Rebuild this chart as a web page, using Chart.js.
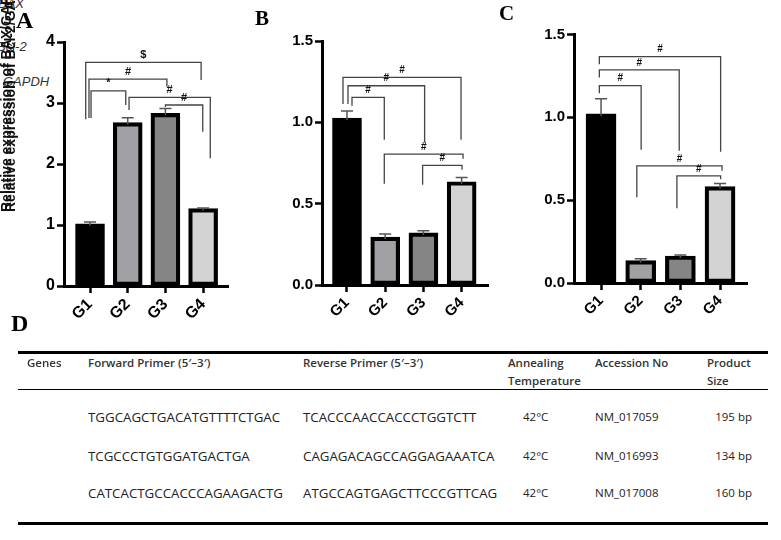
<!DOCTYPE html>
<html><head><meta charset="utf-8">
<script src="https://cdn.jsdelivr.net/npm/chart.js@4.4.0/dist/chart.umd.min.js"></script>
<style>
html,body{margin:0;padding:0;background:#fff;}
body{width:781px;height:540px;position:relative;overflow:hidden;font-family:"Liberation Sans",Arial,sans-serif;}
.box{position:absolute;top:0;height:340px;}
.plabel{position:absolute;font-family:"Liberation Serif","Times New Roman",serif;font-weight:bold;line-height:1;color:#000;}
.gene{position:absolute;font-family:"Liberation Sans",Arial,sans-serif;font-style:italic;font-size:13px;line-height:1;color:#333;white-space:nowrap;}
.t{position:absolute;font-family:"Open Sans",sans-serif;font-size:11.5px;color:#222;white-space:nowrap;line-height:16px;}
.seq{font-size:13.3px;}
.th{font-weight:600;color:#333;}
.r{text-align:right;}
.rule{position:absolute;left:18px;width:750px;background:#000;}
</style></head>
<body>
<div class="gene" style="left:-2px;top:-3px;">BAX</div>
<div class="gene" style="left:-3px;top:40px;">Bcl-2</div>
<div class="gene" style="left:3px;top:75px;">GAPDH</div>

<div class="box" style="left:0;width:250px;"><canvas id="chartA"></canvas></div>
<div class="box" style="left:250px;width:250px;"><canvas id="chartB"></canvas></div>
<div class="box" style="left:500px;width:281px;"><canvas id="chartC"></canvas></div>

<div class="plabel" style="left:16px;top:8px;font-size:24px;">A</div>
<div class="plabel" style="left:255px;top:8px;font-size:21px;">B</div>
<div class="plabel" style="left:499px;top:3px;font-size:21px;">C</div>
<div class="plabel" style="left:11px;top:311px;font-size:24px;">D</div>

<div id="table"></div>

<script>
// ---------- data ----------
const groups = ['G1', 'G2', 'G3', 'G4'];
const barColors = ['#000000', '#a0a0a5', '#858585', '#d3d3d3'];

const aValues = [1.02, 2.68, 2.83, 1.27];
const aErrors = [0.03, 0.08, 0.08, 0.01];
const bValues = [1.026, 0.295, 0.320, 0.635];
const bErrors = [0.043, 0.018, 0.014, 0.026];
const cValues = [1.021, 0.135, 0.163, 0.582];
const cErrors = [0.091, 0.012, 0.006, 0.018];

const aYTicks = [0, 1, 2, 3, 4];
const bYTicks = [0, 0.5, 1.0, 1.5];
const cYTicks = [0, 0.5, 1.0, 1.5];

// significance brackets: [x start, x end, bar height, left leg end, right leg end, label]
const aBrackets = [
  [0.886, 3.947, 3.667, 2.733, 3.377, '$'],
  [0.973, 3.040, 3.393, 2.754, 3.267, '#'],
  [1.027, 1.948, 3.200, 2.754, 2.967, '*'],
  [2.035, 4.190, 3.093, 2.885, 2.093, '#'],
  [3.000, 3.990, 2.967, 2.934, 2.530, '#']
];
const bBrackets = [
  [0.895, 3.984, 1.276, 1.112, 0.893, '#'],
  [1.026, 3.031, 1.225, 1.112, 0.876, '#'],
  [1.131, 1.976, 1.153, 1.102, 0.893, '#'],
  [1.976, 4.037, 0.805, 0.623, 0.776, '#'],
  [2.979, 4.010, 0.735, 0.616, 0.709, '#']
];
const cBrackets = [
  [0.957, 4.015, 1.367, 1.321, 0.793, '#'],
  [0.957, 2.971, 1.287, 1.240, 0.798, '#'],
  [0.957, 2.011, 1.192, 1.146, 0.804, '#'],
  [1.902, 4.050, 0.707, 0.518, 0.677, '#'],
  [2.913, 4.015, 0.647, 0.451, 0.627, '#']
];

const aYTitles = ['Relative expression of BAX/GAPDH', 'Relative expression of Bcl-2/GAPDH'];

const tableHeaders = ['Genes', 'Forward Primer (5\u2032\u20133\u2032)', 'Reverse Primer (5\u2032\u20133\u2032)', ['Annealing', 'Temperature'], 'Accession No', ['Product', 'Size']];
const forwardPrimers = ['TGGCAGCTGACATGTTTTCTGAC', 'TCGCCCTGTGGATGACTGA', 'CATCACTGCCACCCAGAAGACTG'];
const reversePrimers = ['TCACCCAACCACCCTGGTCTT', 'CAGAGACAGCCAGGAGAAATCA', 'ATGCCAGTGAGCTTCCCGTTCAG'];
const annealTemps = ['42\u00B0C', '42\u00B0C', '42\u00B0C'];
const accessions = ['NM_017059', 'NM_016993', 'NM_017008'];
const productSizes = ['195 bp', '134 bp', '160 bp'];

// ---------- plugins ----------
const errPlugin = {
  id: 'errbars',
  afterDatasetsDraw(chart, args, o) {
    const meta = chart.getDatasetMeta(0), ys = chart.scales.y, ctx = chart.ctx;
    ctx.save();
    ctx.strokeStyle = o.color; ctx.lineWidth = o.width;
    meta.data.forEach((el, i) => {
      const v = o.values[i], e = o.errors[i];
      const y0 = ys.getPixelForValue(v) + 2, y1 = ys.getPixelForValue(v + e);
      ctx.beginPath();
      ctx.moveTo(el.x, y0); ctx.lineTo(el.x, y1);
      ctx.moveTo(el.x - o.cap, y1); ctx.lineTo(el.x + o.cap, y1);
      ctx.stroke();
    });
    ctx.restore();
  }
};
const bracketPlugin = {
  id: 'brackets',
  afterDatasetsDraw(chart, args, o) {
    const xs = chart.scales.x, ys = chart.scales.y, ctx = chart.ctx;
    ctx.save();
    ctx.strokeStyle = o.color; ctx.lineWidth = o.width; ctx.fillStyle = '#111';
    ctx.font = o.font; ctx.textAlign = 'center'; ctx.textBaseline = 'bottom';
    o.items.forEach(b => {
      const x1 = xs.getPixelForValue(b[0]), x2 = xs.getPixelForValue(b[1]);
      const y = ys.getPixelForValue(b[2]);
      ctx.beginPath();
      ctx.moveTo(x1, ys.getPixelForValue(b[3]));
      ctx.lineTo(x1, y); ctx.lineTo(x2, y);
      ctx.lineTo(x2, ys.getPixelForValue(b[4]));
      ctx.stroke();
      ctx.fillText(b[5], (x1 + x2) / 2, y - 2);
    });
    ctx.restore();
  }
};
const yTitlePlugin = {
  id: 'ytitles',
  afterDraw(chart, args, o) {
    if (!o.titles) return;
    const ctx = chart.ctx;
    ctx.save();
    ctx.fillStyle = '#111'; ctx.font = 'bold 14px "Liberation Sans", Arial, sans-serif';
    ctx.textAlign = 'left'; ctx.textBaseline = 'alphabetic';
    o.titles.forEach((t, i) => {
      ctx.save();
      ctx.translate(o.x[i], o.bottom);
      ctx.rotate(-Math.PI / 2);
      ctx.fillText(t, 0, 0);
      ctx.restore();
    });
    ctx.restore();
  }
};

function makeChart(id, values, errors, yTicks, brackets, geo) {
  return new Chart(document.getElementById(id), {
    type: 'bar',
    data: {
      datasets: [{
        data: values.map((v, i) => ({ x: i + 1, y: v })),
        backgroundColor: barColors,
        borderColor: '#000',
        borderWidth: geo.bw,
        borderSkipped: false,
        barThickness: geo.barW
      }]
    },
    options: {
      responsive: true, maintainAspectRatio: false, animation: false,
      layout: { padding: { left: 0, top: geo.top, right: geo.right, bottom: 0 } },
      plugins: {
        legend: { display: false }, tooltip: { enabled: false },
        errbars: { values: values, errors: errors, color: '#555', width: 1.5, cap: 6 },
        brackets: { items: brackets, color: '#444', width: 1.3, font: 'bold ' + geo.bf + 'px "Liberation Sans", Arial, sans-serif' },
        ytitles: geo.titles || {}
      },
      scales: {
        x: {
          type: 'linear', min: geo.xmin, max: geo.xmax, offset: false,
          afterBuildTicks: s => { s.ticks = groups.map((g, i) => ({ value: i + 1 })); },
          afterFit: s => { s.height = geo.xh; },
          grid: { display: true, offset: false, drawOnChartArea: false, drawTicks: true, tickLength: 7, tickWidth: 2.5, tickColor: '#000' },
          border: { display: true, color: '#000', width: 3 },
          ticks: {
            color: '#000', minRotation: 45, maxRotation: 45, padding: 2, autoSkip: false,
            font: { family: '"Liberation Sans", Arial, sans-serif', weight: 'bold', size: geo.fs },
            callback: v => groups[Math.round(v) - 1]
          }
        },
        y: {
          min: 0, max: yTicks[yTicks.length - 1],
          afterBuildTicks: s => { s.ticks = yTicks.map(v => ({ value: v })); },
          afterFit: s => { s.width = geo.yw; },
          grid: { display: true, drawOnChartArea: false, drawTicks: true, tickLength: 7, tickWidth: 2.5, tickColor: '#000' },
          border: { display: true, color: '#000', width: 3 },
          ticks: {
            color: '#000', padding: 2,
            font: { family: '"Liberation Sans", Arial, sans-serif', weight: 'bold', size: geo.fs },
            callback: v => geo.dec ? Number(v).toFixed(1) : String(v)
          }
        }
      }
    },
    plugins: [errPlugin, bracketPlugin, yTitlePlugin]
  });
}

makeChart('chartA', aValues, aErrors, aYTicks, aBrackets,
  { top: 42, right: 22, yw: 64, xh: 54, xmin: 0.31, xmax: 4.66, barW: 29, bw: 4.2, fs: 16, bf: 11, dec: false,
    titles: { titles: aYTitles, x: [11, 15], bottom: 212 } });
makeChart('chartB', bValues, bErrors, bYTicks, bBrackets,
  { top: 41, right: 12, yw: 72, xh: 55, xmin: 0.346, xmax: 4.69, barW: 29, bw: 4.2, fs: 15, bf: 10, dec: true });
makeChart('chartC', cValues, cErrors, cYTicks, cBrackets,
  { top: 34.5, right: 34, yw: 74, xh: 57, xmin: 0.318, xmax: 4.68, barW: 30, bw: 4.2, fs: 15, bf: 10, dec: true });

// ---------- table D ----------
(function () {
  const T = document.getElementById('table');
  function add(txt, x, cy, cls, right) {
    const d = document.createElement('div');
    d.className = 't ' + (cls || '');
    d.textContent = txt;
    d.style.top = (cy - 8) + 'px';
    if (right) { d.style.right = (781 - x) + 'px'; d.classList.add('r'); } else d.style.left = x + 'px';
    T.appendChild(d);
  }
  function rule(y, h) {
    const d = document.createElement('div');
    d.className = 'rule'; d.style.top = y + 'px'; d.style.height = h + 'px';
    T.appendChild(d);
  }
  rule(350.5, 3); rule(388.8, 1.3); rule(522, 3);
  const hx = [27, 88, 303, 508, 595, 707];
  tableHeaders.forEach((h, i) => {
    if (Array.isArray(h)) { add(h[0], hx[i], 363, 'th'); add(h[1], hx[i], 381, 'th'); }
    else add(h, hx[i], 363, 'th');
  });
  const rowY = [417.3, 455.7, 493.3];
  rowY.forEach((y, r) => {
    add(forwardPrimers[r], 88, y, 'seq');
    add(reversePrimers[r], 303, y, 'seq');
    add(annealTemps[r], 523, y);
    add(accessions[r], 595, y);
    add(productSizes[r], 752, y, '', true);
  });
})();
</script>
</body></html>
